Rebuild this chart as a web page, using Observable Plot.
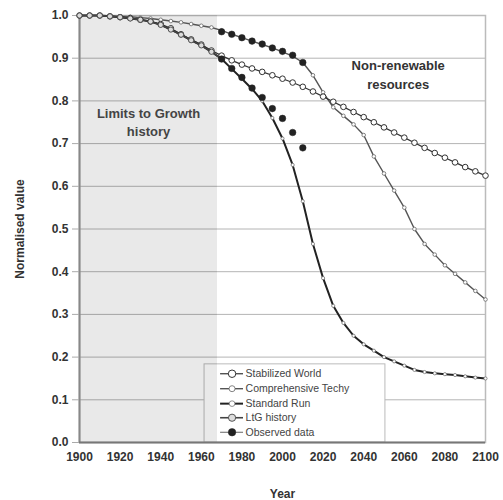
<!DOCTYPE html>
<html><head><meta charset="utf-8">
<script src="https://cdn.jsdelivr.net/npm/d3@7"></script>
<script src="https://cdn.jsdelivr.net/npm/@observablehq/plot@0.6"></script>
<style>body{margin:0;background:#fff}</style>
</head><body><div id="chart"></div>
<script>
// ---- data ----
const years = [1900,1905,1910,1915,1920,1925,1930,1935,1940,1945,1950,1955,1960,1965,1970,1975,1980,1985,1990,1995,2000,2005,2010,2015,2020,2025,2030,2035,2040,2045,2050,2055,2060,2065,2070,2075,2080,2085,2090,2095,2100];
const stabilizedWorld = [1.0,1.0,1.0,0.998,0.996,0.994,0.99,0.986,0.98,0.97,0.956,0.944,0.932,0.918,0.906,0.895,0.885,0.876,0.868,0.86,0.852,0.843,0.833,0.822,0.81,0.798,0.786,0.774,0.762,0.75,0.738,0.726,0.714,0.702,0.69,0.678,0.667,0.656,0.645,0.635,0.625];
const comprehensiveTech = [1.0,1.0,1.0,0.999,0.998,0.997,0.995,0.993,0.99,0.987,0.984,0.98,0.976,0.972,0.965,0.956,0.948,0.94,0.932,0.924,0.915,0.905,0.89,0.86,0.82,0.785,0.765,0.745,0.72,0.67,0.63,0.59,0.55,0.50,0.465,0.44,0.415,0.395,0.375,0.355,0.335];
const standardRun = [1.0,1.0,1.0,0.998,0.996,0.993,0.99,0.986,0.978,0.967,0.955,0.942,0.93,0.915,0.898,0.875,0.852,0.828,0.8,0.76,0.712,0.65,0.565,0.465,0.385,0.32,0.28,0.25,0.23,0.215,0.2,0.19,0.18,0.17,0.165,0.162,0.16,0.158,0.155,0.152,0.15];
const historyYears = [1900,1905,1910,1915,1920,1925,1930,1935,1940,1945,1950,1955,1960,1965,1970];
const ltgHistory = [1.0,1.0,1.0,0.998,0.996,0.993,0.99,0.986,0.978,0.967,0.955,0.942,0.93,0.915,0.898];
const observedYears = [1970,1975,1980,1985,1990,1995,2000,2005,2010];
const observedHigh = [0.962,0.956,0.948,0.94,0.933,0.924,0.916,0.907,0.89];
const observedLow = [0.898,0.876,0.855,0.83,0.808,0.782,0.759,0.726,0.69];
const xTicks = [1900,1920,1940,1960,1980,2000,2020,2040,2060,2080,2100];
const yTicks = [0,0.1,0.2,0.3,0.4,0.5,0.6,0.7,0.8,0.9,1.0];
const seriesNames = ["Stabilized World","Comprehensive Techy","Standard Run","LtG history","Observed data"];
const historyStart = 1900, historyEnd = 1968;
const titleText = "Non-renewable\nresources";
const historyText = "Limits to Growth\nhistory";

// ---- layout / styles ----
const font = "Liberation Sans, Arial, Helvetica, sans-serif";
const styles = {
  "Stabilized World":   {stroke:"#333", sw:1.2, r:2.8, fill:"#fff", mstroke:"#333", msw:1},
  "Comprehensive Techy":{stroke:"#555", sw:1.4, r:1.8, fill:"#fff", mstroke:"#666", msw:0.8},
  "Standard Run":       {stroke:"#222", sw:2,   r:1.6, fill:"#fff", mstroke:"#666", msw:0.7},
  "LtG history":        {stroke:"#444", sw:1.6, r:2.6, fill:"#ddd", mstroke:"#444", msw:0.9},
  "Observed data":      {stroke:"#666", sw:1, r:3.3, fill:"#222", mstroke:"#222", msw:0.5, dash:"1,3"}
};
const legendBox = {x1:1961.6, x2:2050.7, y1:0, y2:0.183};
const legendRowsY = [0.161,0.126,0.091,0.058,0.024];
const legendLineX = [1969.5,1980.8];
const legendTextX = 1981.8;

const rows = years.map((year,i)=>({year, sw:stabilizedWorld[i], ct:comprehensiveTech[i], sr:standardRun[i]}));
const hist = historyYears.map((year,i)=>({year, v:ltgHistory[i]}));
const obsHigh = observedYears.map((year,i)=>({year, v:observedHigh[i]}));
const obsLow = observedYears.map((year,i)=>({year, v:observedLow[i]}));
const legendData = seriesNames.map((name,i)=>({name, y:legendRowsY[i], ...styles[name]}));

function seriesMarks(data, key, s){
  return [
    Plot.line(data, {x:"year", y:key, stroke:s.stroke, strokeWidth:s.sw}),
    Plot.dot(data, {x:"year", y:key, r:s.r, fill:s.fill, stroke:s.mstroke, strokeWidth:s.msw})
  ];
}

const plot = Plot.plot({
  width:503, height:500,
  marginLeft:79, marginRight:18, marginTop:15, marginBottom:58,
  style:{fontFamily:font, fontSize:"12px", background:"#fff", overflow:"visible"},
  x:{domain:[1900,2100], ticks:xTicks},
  y:{domain:[0,1], ticks:yTicks},
  marks:[
    Plot.gridY(yTicks, {stroke:"#b4b4b4", strokeOpacity:1, strokeWidth:1}),
    Plot.frame({stroke:"#bbb", strokeWidth:1.5}),
    // legend box
    Plot.rect([legendBox], {x1:"x1", x2:"x2", y1:"y1", y2:"y2", fill:"#fff", stroke:"#bbb", strokeWidth:1}),
    // shaded LtG history period
    Plot.rect([{x1:historyStart, x2:historyEnd}], {x1:"x1", x2:"x2", y1:0, y2:1, fill:"#000", fillOpacity:0.085}),
    Plot.ruleX([1900], {stroke:"#888", strokeWidth:2}),
    Plot.ruleY([0], {stroke:"#777", strokeWidth:2}),
    Plot.axisY(yTicks, {tickFormat:d3.format(".1f"), tickSize:7, tickPadding:4, fontWeight:"bold", fill:"#333", stroke:"#aaa",
      label:"Normalised value", labelAnchor:"center", labelOffset:64, labelArrow:"none", fontSize:12}),
    Plot.axisX(xTicks, {tickFormat:d3.format("d"), tickSize:0, tickPadding:10, fontWeight:"bold", fill:"#333",
      label:"Year", labelAnchor:"center", labelOffset:55, labelArrow:"none", fontSize:12}),
    Plot.text([historyText], {x:1934, y:0.752, text:d=>d, fontWeight:"bold", fontSize:13, fill:"#444", lineHeight:1.38, lineAnchor:"middle"}),
    Plot.text([titleText], {x:2057, y:0.865, text:d=>d, fontWeight:"bold", fontSize:13, fill:"#333", lineHeight:1.45, lineAnchor:"middle"}),
    ...seriesMarks(rows, "ct", styles["Comprehensive Techy"]),
    ...seriesMarks(rows, "sw", styles["Stabilized World"]),
    ...seriesMarks(rows, "sr", styles["Standard Run"]),
    ...seriesMarks(hist, "v", styles["LtG history"]),
    Plot.dot(obsHigh, {x:"year", y:"v", r:styles["Observed data"].r, fill:"#222", stroke:"#222", strokeWidth:0.5}),
    Plot.dot(obsLow, {x:"year", y:"v", r:styles["Observed data"].r, fill:"#222", stroke:"#222", strokeWidth:0.5}),
    // legend entries
    Plot.ruleY(legendData, {y:"y", x1:legendLineX[0], x2:legendLineX[1], stroke:"stroke", strokeWidth:"sw", strokeDasharray:d=>d.dash||null}),
    Plot.dot(legendData, {y:"y", x:(legendLineX[0]+legendLineX[1])/2, r:d=>Math.min(d.r,2.8), fill:"fill", stroke:"mstroke", strokeWidth:"msw"}),
    Plot.text(legendData, {y:"y", x:legendTextX, text:"name", textAnchor:"start", fontSize:10.5, fill:"#444"})
  ]
});
document.getElementById("chart").appendChild(plot);
</script>
</body></html>
